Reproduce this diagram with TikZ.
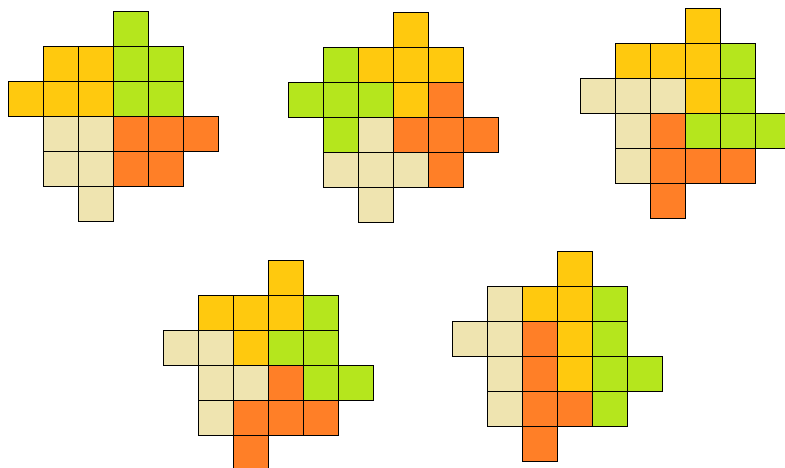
\documentclass[tikz,border=0pt]{standalone}
\usepackage{xcolor}
\definecolor{yel}{RGB}{255,201,14}
\definecolor{lim}{RGB}{181,230,29}
\definecolor{org}{RGB}{255,127,39}
\definecolor{sand}{RGB}{239,228,176}
\tikzset{
    cell/.style={draw=black, line width=0.9pt, fill=#1,
                 minimum size=35pt, inner sep=0pt},
}
% one row of tiles: figure, row, first column, colours
\newcommand{\tilerow}[4]{%
  \foreach \tc [count=\k from #3] in {#4}
    \node[cell=\tc] (#1-#2-\k) at ({35*\k+17.5},{35*#2+17.5}) {};}

\begin{document}
\begin{tikzpicture}[x=1pt, y=-1pt]
    \useasboundingbox (0,0) rectangle (785,468);

    % top left
    \begin{scope}[shift={(43.7,46.3)}]
        \tilerow{a}{-1}{2}{lim}
        \tilerow{a}{0}{0}{yel,yel,lim,lim}
        \tilerow{a}{1}{-1}{yel,yel,yel,lim,lim}
        \tilerow{a}{2}{0}{sand,sand,org,org,org}
        \tilerow{a}{3}{0}{sand,sand,org,org}
        \tilerow{a}{4}{1}{sand}
    \end{scope}

    % top middle
    \begin{scope}[shift={(323.3,47)}]
        \tilerow{b}{-1}{2}{yel}
        \tilerow{b}{0}{0}{lim,yel,yel,yel}
        \tilerow{b}{1}{-1}{lim,lim,lim,yel,org}
        \tilerow{b}{2}{0}{lim,sand,org,org,org}
        \tilerow{b}{3}{0}{sand,sand,sand,org}
        \tilerow{b}{4}{1}{sand}
    \end{scope}

    % top right
    \begin{scope}[shift={(615.7,43.7)}]
        \tilerow{c}{-1}{2}{yel}
        \tilerow{c}{0}{0}{yel,yel,yel,lim}
        \tilerow{c}{1}{-1}{sand,sand,sand,yel,lim}
        \tilerow{c}{2}{0}{sand,org,lim,lim,lim}
        \tilerow{c}{3}{0}{sand,org,org,org}
        \tilerow{c}{4}{1}{org}
    \end{scope}

    % bottom left
    \begin{scope}[shift={(198.3,295.7)}]
        \tilerow{d}{-1}{2}{yel}
        \tilerow{d}{0}{0}{yel,yel,yel,lim}
        \tilerow{d}{1}{-1}{sand,sand,yel,lim,lim}
        \tilerow{d}{2}{0}{sand,sand,org,lim,lim}
        \tilerow{d}{3}{0}{sand,org,org,org}
        \tilerow{d}{4}{1}{org}
    \end{scope}

    % bottom right
    \begin{scope}[shift={(487.3,286.7)}]
        \tilerow{e}{-1}{2}{yel}
        \tilerow{e}{0}{0}{sand,yel,yel,lim}
        \tilerow{e}{1}{-1}{sand,sand,org,yel,lim}
        \tilerow{e}{2}{0}{sand,org,yel,lim,lim}
        \tilerow{e}{3}{0}{sand,org,org,lim}
        \tilerow{e}{4}{1}{org}
    \end{scope}
\end{tikzpicture}
\end{document}
